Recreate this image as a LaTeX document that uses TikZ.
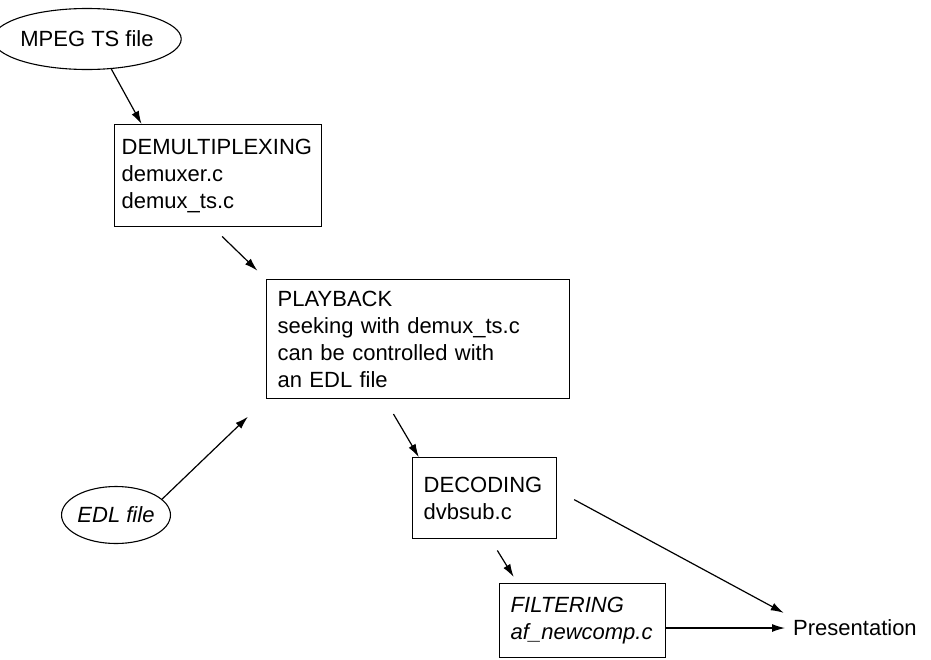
\documentclass[tikz,border=0pt]{standalone}
\usepackage{fontspec}
\setmainfont{Liberation Sans}
\usetikzlibrary{shapes.geometric,arrows.meta}

\begin{document}
\begin{tikzpicture}[x=1pt, y=-1pt,
    every node/.style={font=\fontsize{22}{27}\selectfont},
    box/.style={draw, line width=1.4pt, rectangle, align=left, anchor=north west, inner xsep=11pt, inner ysep=0pt},
    blob/.style={draw, line width=1.1pt, ellipse, inner sep=0pt},
    arr/.style={-{Latex[length=13pt,width=8pt]}, line width=1.2pt}]

    \useasboundingbox (0,0) rectangle (931,659);

    % Inputs
    \node[blob, minimum width=160pt, minimum height=61pt] (mpeg) at (87,39) {MPEG TS file};
    \node[blob, minimum width=107pt, minimum height=57pt] (edl) at (116,515) {\itshape EDL file};

    % Stages
    \node[box, inner xsep=7pt, text width=193pt, minimum height=102pt] (demux) at (114,124)
        {DEMULTIPLEXING\\demuxer.c\\demux\_ts.c};
    \node[box, text width=281pt, minimum height=119pt] (playback) at (266,279)
        {PLAYBACK\\seeking with demux\_ts.c\\can be controlled with\\an EDL file};
    \node[box, text width=122pt, minimum height=81pt] (decoding) at (412,457)
        {DECODING\\dvbsub.c};
    \node[box, text width=144pt, minimum height=74pt] (filtering) at (499,583)
        {\itshape FILTERING\\\itshape af\_newcomp.c};

    % Output
    \node[anchor=west, inner sep=4pt] (pres) at (789,628) {Presentation};

    % Connectors
    \draw[arr] (mpeg.-51) -- (demux.146);
    \draw[arr, shorten <=13pt, shorten >=12pt] (demux.-96) -- (playback.north west);
    \draw[arr, shorten >=25pt] (edl.19) -- (playback.south west);
    \draw[arr, shorten <=17pt] (playback.-119) -- (decoding.148);
    \draw[arr, shorten <=13pt, shorten >=7pt] (decoding.-82) -- (filtering.150);
    \draw[arr, shorten <=19pt, shorten >=6pt] (decoding.6) -- (pres.north west);
    \draw[arr, shorten >=4pt] (pres.west -| filtering.east) -- (pres.west);

\end{tikzpicture}
\end{document}
